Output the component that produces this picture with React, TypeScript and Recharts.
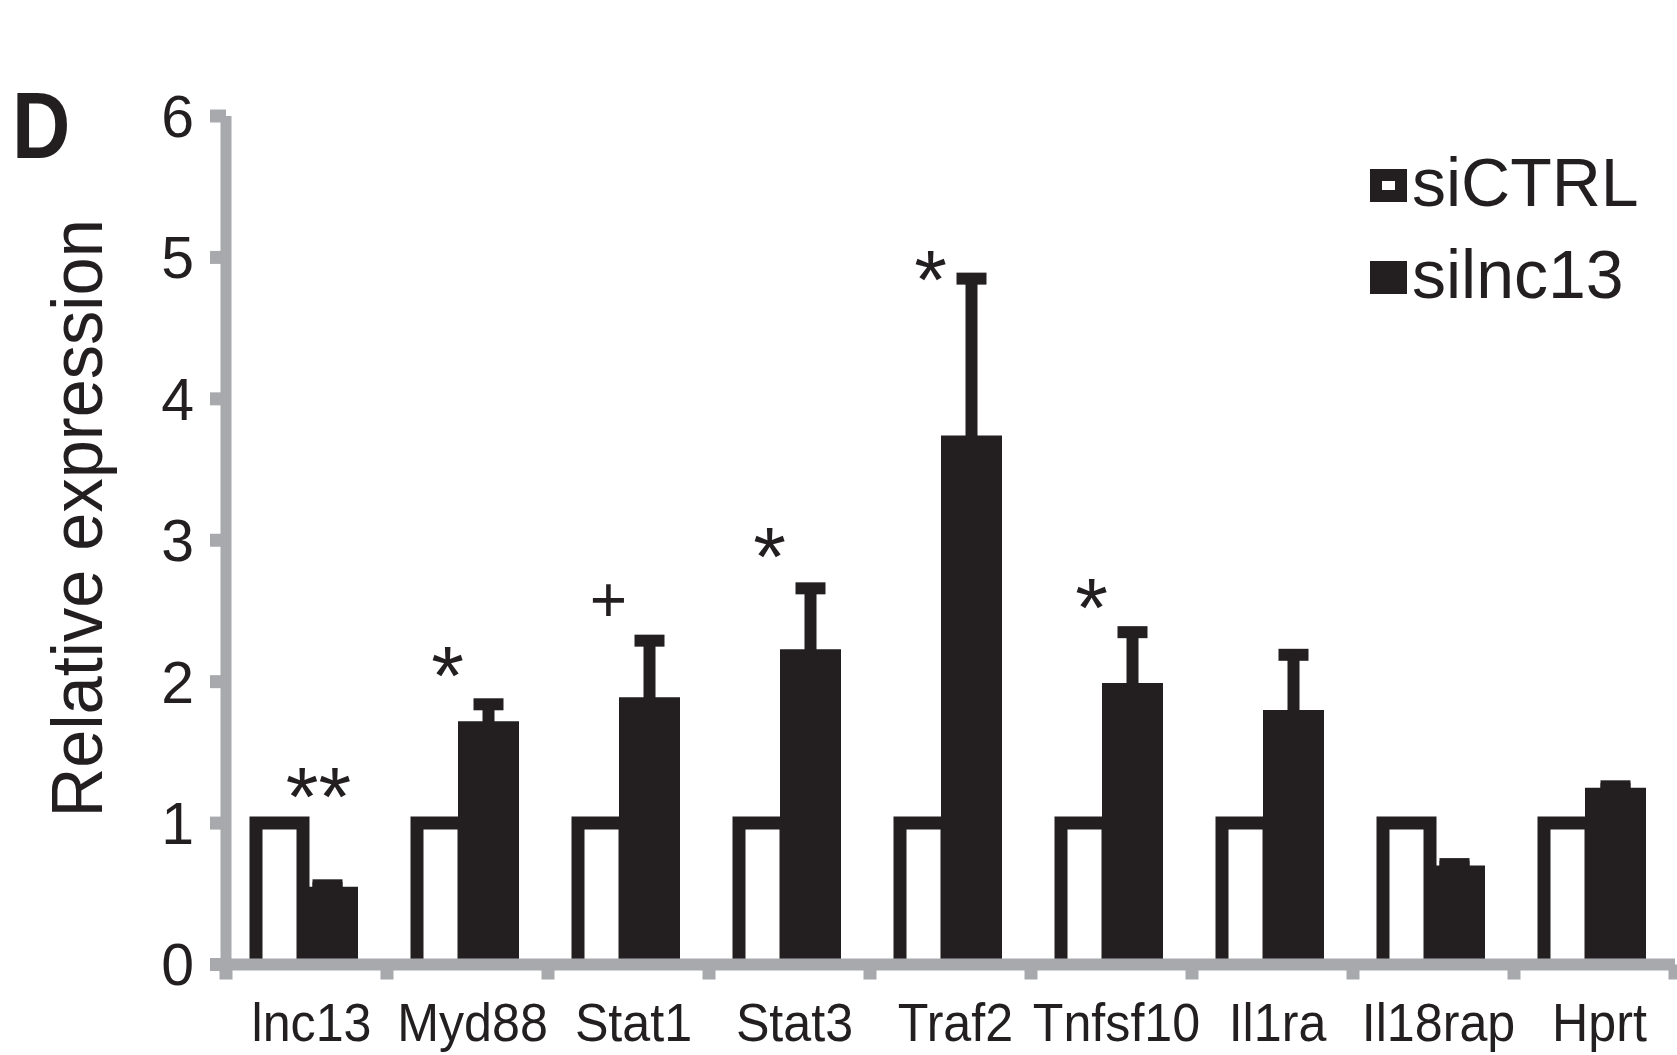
import React from 'react';
import { ComposedChart, Bar, Line, XAxis, YAxis, ErrorBar, Legend, LabelList } from 'recharts';

// ---- data ----
const categories = ['lnc13', 'Myd88', 'Stat1', 'Stat3', 'Traf2', 'Tnfsf10', 'Il1ra', 'Il18rap', 'Hprt'];
const siCTRL = [1, 1, 1, 1, 1, 1, 1, 1, 1];
const silnc13 = [0.55, 1.72, 1.89, 2.23, 3.74, 1.99, 1.8, 0.7, 1.25];
const silnc13Err = [0.01, 0.12, 0.4, 0.43, 1.11, 0.36, 0.39, 0.01, 0.01];
const sigMarks = ['**', '*', '+', '*', '*', '*', '', '', ''];
const sigLevel = [1.32, 2.18, 2.58, 3.02, 4.98, 2.66, null, null, null];
const yTicks = [0, 1, 2, 3, 4, 5, 6];

const data = categories.map((name, i) => ({
  name,
  ctrl: siCTRL[i],
  lnc: silnc13[i],
  err: silnc13Err[i],
  sig: sigLevel[i],
}));

const FONT = '"Liberation Sans", Arial, Helvetica, sans-serif';
const INK = '#231f20';
const GRAY = '#a7a9ac';

const OpenBar = (props: any) => {
  const { x, y, width, height } = props;
  if (x == null || y == null) return null;
  return (
    <path
      d={`M${x},${y + height} L${x},${y} L${x + width},${y} L${x + width},${y + height}`}
      fill="#ffffff"
      stroke={INK}
      strokeWidth={13}
    />
  );
};

// category label + Excel-style tick marks on the category boundaries
const XTick = (props: any) => {
  const { x, y, payload, index, visibleTicksCount, width } = props;
  const n = visibleTicksCount || categories.length;
  const half =
    payload && typeof payload.offset === 'number' && payload.offset > 0
      ? payload.offset
      : (width || 0) / n / 2;
  const tickLen = 15;
  return (
    <g>
      <line x1={x - half} x2={x - half} y1={y} y2={y + tickLen} stroke={GRAY} strokeWidth={13} />
      {index === n - 1 && (
        <line x1={x + half} x2={x + half} y1={y} y2={y + tickLen} stroke={GRAY} strokeWidth={13} />
      )}
      <g transform={`translate(${x + 5},${y})`}>
        <text x={0} y={77} transform="scale(0.93,1)" textAnchor="middle" fontSize={54} fontFamily={FONT} fill={INK}>
          {payload.value}
        </text>
      </g>
    </g>
  );
};

const YLabel = (props: any) => {
  const vb = props.viewBox || { x: 0, y: 0, width: 0, height: 0 };
  const cx = vb.x + 102;
  const cy = vb.y + vb.height / 2 - 22;
  return (
    <text
      x={cx}
      y={cy}
      transform={`rotate(-90 ${cx} ${cy})`}
      textAnchor="middle"
      fontSize={72}
      fontFamily={FONT}
      fill={INK}
      textLength={598}
      lengthAdjust="spacingAndGlyphs"
    >
      Relative expression
    </text>
  );
};

const SigLabel = (props: any) => {
  const { index } = props;
  const mark = sigMarks[index];
  if (!mark) return null;
  const vb = props.viewBox || {};
  const px = vb.x != null ? vb.x : props.x;
  const py = vb.y != null ? vb.y : props.y;
  if (px == null || py == null || isNaN(py)) return null;
  const isPlus = mark === '+';
  const size = isPlus ? 64 : 84;
  const rise = isPlus ? 0.35 : 0.575;
  return (
    <text
      x={px - 20 + (mark.length - 1) * 32}
      y={py + rise * size}
      fontSize={size}
      fontFamily={FONT}
      fill={INK}
      textAnchor="middle"
    >
      {mark}
    </text>
  );
};

const LegendContent = (props: any) => {
  const items = (props.payload || []).filter((e: any) => e.type !== 'none');
  return (
    <div style={{ fontFamily: FONT, fontSize: 68, color: INK }}>
      {items.map((e: any) => (
        <div key={e.value} style={{ display: 'flex', alignItems: 'flex-start', height: 92, lineHeight: '92px' }}>
          <span
            style={{
              display: 'inline-block',
              width: 37,
              height: 33,
              marginTop: 33,
              boxSizing: 'border-box',
              border: `12px solid ${INK}`,
              background: e.color,
              marginRight: 5,
            }}
          />
          <span>{e.value}</span>
        </div>
      ))}
    </div>
  );
};

export default function App() {
  return (
    <div style={{ position: 'absolute', left: 0, top: 0, width: 1677, height: 1055, background: '#fff' }}>
      <ComposedChart
        width={1677}
        height={1055}
        data={data}
        margin={{ top: 116, right: 2, bottom: 0, left: 0 }}
        barGap={-6}
      >
        <Bar xAxisId="cat" dataKey="ctrl" name="siCTRL" fill="#ffffff" barSize={47} shape={OpenBar} isAnimationActive={false} />
        <Bar xAxisId="cat" dataKey="lnc" name="silnc13" fill={INK} barSize={61} isAnimationActive={false}>
          <ErrorBar dataKey="err" direction="y" width={15} strokeWidth={12} stroke={INK} isAnimationActive={false} />
        </Bar>
        <Line
          xAxisId="cat"
          dataKey="sig"
          stroke="none"
          strokeWidth={0}
          dot={false}
          activeDot={false}
          legendType="none"
          isAnimationActive={false}
        >
          <LabelList dataKey="sig" content={SigLabel} />
        </Line>
        <XAxis
          xAxisId="cat"
          dataKey="name"
          height={90.5}
          interval={0}
          tickSize={0}
          tickMargin={0}
          tickLine={false}
          axisLine={{ stroke: GRAY, strokeWidth: 12 }}
          tick={XTick}
        />
        <YAxis
          width={226}
          domain={[0, 6]}
          ticks={yTicks}
          interval={0}
          tickSize={16}
          tickMargin={16}
          axisLine={{ stroke: GRAY, strokeWidth: 11 }}
          tickLine={{ stroke: GRAY, strokeWidth: 13 }}
          tick={{ fontSize: 59, fill: INK, fontFamily: FONT }}
          label={YLabel}
        />
        <Legend
          layout="vertical"
          align="center"
          verticalAlign="middle"
          content={LegendContent}
          wrapperStyle={{ left: 1370, top: 136, width: 300 }}
        />
      </ComposedChart>
      <svg style={{ position: 'absolute', left: 0, top: 0 }} width={120} height={200}>
        <text x={14} y={158} fontSize={94} fontWeight="bold" fontFamily={FONT} fill={INK} transform="scale(0.86,1)">
          D
        </text>
      </svg>
    </div>
  );
}
